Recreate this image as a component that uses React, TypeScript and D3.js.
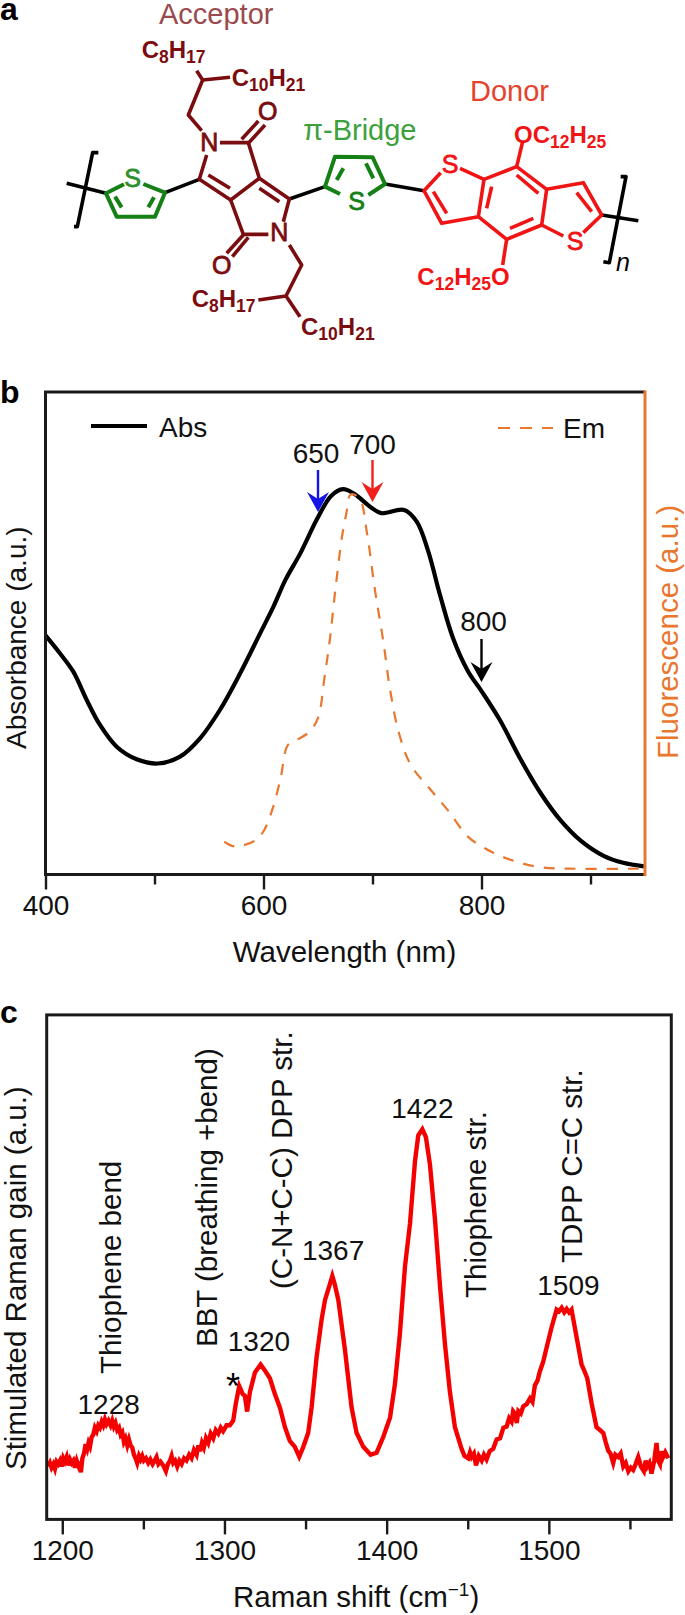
import React, { useEffect, useRef } from "react";
import * as d3 from "d3";

// panel b: wavelength (nm) against absorbance / fluorescence, arbitrary units
const absWavelength = [400, 413, 425.5, 437.8, 450, 465.3, 483.7, 503, 523.4, 541.8, 560, 578.7, 597, 609, 620, 634, 649, 662, 673, 683, 699, 708, 729, 740.6, 751, 762, 774, 787.6, 800, 817, 835.6, 854, 872, 891, 912, 930, 949];
const absValue = [204.7, 189.6, 173.6, 149.4, 128, 109.4, 98.6, 95, 100.9, 116.6, 140.8, 172.4, 206.6, 229, 252, 275.3, 304, 324, 329.8, 326, 314, 309.3, 312, 302, 277, 239, 202, 174, 157, 132, 99, 70, 47, 29, 16, 10, 7];
const emWavelength = [564, 574, 592.7, 600, 608, 615.6, 622, 628, 642, 650, 656, 661, 665.7, 672, 676, 680, 688, 695, 702, 710, 716, 724, 735, 752, 770, 788, 810, 831, 853, 881, 949];
const emValue = [28, 24, 29.3, 37, 55.3, 82, 110.3, 114, 122, 134, 169, 202, 242, 289, 309, 325.3, 322, 292, 245, 199, 159, 122, 94, 74, 54, 32, 19, 11.3, 6.3, 5, 5];
const wavelengthMajor = [400, 600, 800];
const wavelengthMinor = [500, 700, 900];

const arrowWavelengths = [650, 700, 800];
const arrowLabels = ["650", "700", "800"];
const arrowColors = ["#1414e6", "#f0201c", "#000000"];

// panel c: [Raman shift (cm-1), gain (arbitrary units)]
const ramanPoints = [
  [1191.4, 45], [1192.4, 48], [1193.4, 44], [1194.5, 47], [1195.5, 43], [1196.5, 49], [1197.5, 47], [1198.6, 50], [1199.6, 45], [1200.6, 52],
  [1201.6, 49], [1202.7, 53], [1203.7, 46], [1204.8, 51], [1205.8, 48], [1206.8, 50], [1207.8, 44], [1208.9, 50], [1209.9, 46], [1210.7, 49],
  [1211.5, 40], [1212.4, 52], [1213.4, 56], [1214.4, 64], [1215.4, 60], [1216.2, 65], [1217.1, 62], [1218.1, 70], [1219.1, 72], [1220.1, 78],
  [1221.2, 75], [1222.2, 80], [1223.2, 78], [1224.3, 83], [1225.3, 80], [1226.3, 85], [1227.3, 81], [1228.5, 84], [1229.8, 80], [1230.8, 84],
  [1231.8, 79], [1232.8, 82], [1233.9, 76], [1235, 78], [1236, 72], [1237, 74], [1238, 66], [1239, 69], [1240.1, 63], [1241.1, 68],
  [1242.1, 63], [1243.2, 61], [1244.2, 55], [1245.2, 52], [1246.2, 48], [1247.3, 54], [1248.3, 51], [1249.3, 54], [1250.3, 50], [1251.6, 52],
  [1253, 48], [1254.3, 51], [1255.7, 47], [1257, 50], [1258.1, 53], [1259.3, 47], [1260.6, 49], [1262.2, 46], [1263.9, 41], [1265.1, 47],
  [1266.4, 50], [1267.4, 54], [1268.4, 48], [1269.6, 50], [1270.9, 45], [1272.2, 50], [1273.6, 47], [1275.1, 52], [1276.6, 50], [1278.2, 55],
  [1279.7, 52], [1281.2, 59], [1282.8, 55], [1283.9, 63], [1284.9, 58], [1286.1, 65], [1287.3, 61], [1288.6, 69], [1290, 65], [1291.5, 73],
  [1293.1, 69], [1294.6, 76], [1296.2, 73], [1297.7, 78], [1299.2, 75], [1301.3, 80], [1303.3, 80], [1305.4, 84], [1307, 98.4], [1309.1, 113.4],
  [1311.2, 106.7], [1312.6, 105], [1314, 91.7], [1315.7, 108.4], [1318.8, 125], [1322.3, 131.7], [1324.9, 126.7], [1328, 120], [1331.1, 106.7], [1334.2, 95],
  [1337.3, 78.4], [1340.3, 66.7], [1343.4, 61.7], [1346.1, 53.4], [1348.6, 61.7], [1351.6, 73.4], [1353.7, 95], [1356.8, 138], [1359.9, 170], [1362, 186.6],
  [1365, 200], [1366.5, 207], [1368, 200], [1370.2, 186.6], [1374.3, 144], [1378.4, 95], [1381.5, 73.4], [1385.6, 61.7], [1390.1, 55], [1393.8, 56.7],
  [1397.9, 70], [1402.1, 86.7], [1405.1, 115], [1408.2, 158.4], [1411.3, 215], [1414.4, 251.7], [1417.5, 305], [1419.5, 326.7], [1422, 331.7], [1424.2, 325],
  [1426.7, 301.7], [1429.8, 255], [1432.9, 198.4], [1436, 148.4], [1439, 108.4], [1442.1, 78.4], [1446.2, 60], [1448, 54], [1450.3, 52], [1451.4, 57],
  [1452.4, 53], [1453.8, 56], [1455.1, 46], [1456.8, 54], [1458.6, 50], [1460, 55], [1461.6, 51], [1463.5, 58], [1465.7, 60], [1467.8, 68],
  [1469.9, 69], [1472, 78], [1474, 79], [1475.5, 86], [1477, 83], [1478, 92], [1479.1, 90], [1480.2, 82], [1481.2, 92], [1482.7, 90],
  [1484.2, 96], [1486.3, 98], [1488.4, 103], [1489.9, 100], [1491.4, 114], [1493, 118], [1494.5, 126], [1496.5, 134], [1498.6, 146], [1501.7, 163.4],
  [1504.8, 178.4], [1506.3, 177], [1507.9, 180], [1509.5, 176], [1511, 179], [1512.5, 176], [1514, 178.4], [1517.1, 155], [1520.2, 131.7], [1522, 126],
  [1523.7, 120], [1526.4, 98.4], [1529.4, 78.4], [1531.5, 76], [1533.6, 73.4], [1535, 66], [1536.6, 58.4], [1538, 56], [1539.7, 48], [1541, 55],
  [1542.8, 53], [1544.3, 56], [1545.9, 45], [1547.4, 48], [1549, 41], [1550.5, 44], [1552, 42], [1553.5, 47], [1555.1, 53], [1556.8, 45],
  [1558.6, 41], [1559.7, 50], [1560.7, 45], [1562, 48], [1563.3, 39], [1565, 50], [1566.4, 65], [1567.4, 50], [1568.5, 47], [1569.3, 58],
  [1570.1, 52], [1571.8, 57], [1573.6, 52],
];
const ramanMajor = [1200, 1300, 1400, 1500];
const ramanMinor = [1250, 1350, 1450, 1550];

const peakLabels = ["1228", "1320", "1367", "1422", "1509"];
const peakShifts = [1228, 1320, 1367, 1422, 1509];
const peakGains = [90, 143.3, 221, 341.7, 191];

const modeLabels = ["Thiophene bend", "BBT (breathing +bend)", "(C-N+C-C) DPP str.", "Thiophene str.", "TDPP C=C str."];
const modeX = [121, 217, 292, 486, 582];
const modeBottom = [1374, 1347, 1289, 1298, 1263];

// panel a: skeleton drawn in structure units (3 units to a pixel)
const blackBonds = [
  [[295, 458], [278, 458], [232, 680], [222, 680]],
  [[200, 550], [318, 580]],
  [[495, 578], [598, 538]],
  [[868, 597], [975, 560]],
  [[1155, 552], [1272, 572]],
  [[1805, 645], [1915, 662]],
  [[1862, 530], [1878, 530], [1828, 788], [1810, 785]],
];
const greenBonds = [
  [[372, 553], [318, 580], [350, 650], [465, 650], [495, 578], [430, 552]],
  [[345, 590], [365, 622]],
  [[462, 592], [445, 622]],
  [[1020, 582], [975, 560], [1005, 470], [1118, 472], [1155, 552], [1105, 585]],
  [[1030, 505], [1010, 540]],
  [[1098, 490], [1120, 535]],
];
const darkRedBonds = [
  [[605, 392], [565, 345], [608, 240], [590, 212]],
  [[608, 240], [690, 232]],
  [[660, 428], [745, 428], [778, 535], [868, 597], [850, 665]],
  [[745, 430], [795, 375]],
  [[725, 418], [775, 363]],
  [[778, 565], [838, 605]],
  [[778, 535], [692, 600], [598, 538], [620, 465]],
  [[690, 565], [625, 525]],
  [[692, 600], [730, 703], [805, 703]],
  [[730, 705], [680, 760]],
  [[745, 712], [697, 770]],
  [[868, 735], [905, 795], [858, 888], [775, 900]],
  [[858, 888], [900, 950]],
];
const redBonds = [
  [[1322, 518], [1272, 572], [1325, 670], [1435, 650], [1452, 538], [1380, 505]],
  [[1340, 640], [1300, 575]],
  [[1460, 625], [1475, 560]],
  [[1452, 538], [1550, 500], [1640, 568], [1625, 675], [1520, 718], [1435, 650]],
  [[1550, 525], [1615, 580]],
  [[1600, 655], [1530, 685]],
  [[1550, 500], [1568, 425]],
  [[1520, 718], [1508, 795]],
  [[1640, 568], [1750, 548], [1805, 645], [1750, 698]],
  [[1730, 578], [1775, 635]],
  [[1625, 675], [1690, 708]],
];
const atomLabels = [
  { text: "S", x: 398, y: 562, color: "#2f8f2f" },
  { text: "S", x: 1070, y: 630, color: "#158015" },
  { text: "N", x: 628, y: 454, color: "#7b0c10" },
  { text: "N", x: 838, y: 724, color: "#7b0c10" },
  { text: "O", x: 803, y: 360, color: "#7b0c10" },
  { text: "O", x: 665, y: 822, color: "#7b0c10" },
  { text: "S", x: 1350, y: 518, color: "#f01414" },
  { text: "S", x: 1725, y: 750, color: "#f01414" },
];
const chainLabels = [
  { parts: [["C", 0], ["8", 1], ["H", 0], ["17", 1]], x: 425, y: 175, color: "#7b0c10" },
  { parts: [["C", 0], ["10", 1], ["H", 0], ["21", 1]], x: 695, y: 258, color: "#7b0c10" },
  { parts: [["C", 0], ["8", 1], ["H", 0], ["17", 1]], x: 575, y: 920, color: "#7b0c10" },
  { parts: [["C", 0], ["10", 1], ["H", 0], ["21", 1]], x: 903, y: 1005, color: "#7b0c10" },
  { parts: [["OC", 0], ["12", 1], ["H", 0], ["25", 1]], x: 1542, y: 430, color: "#f01414" },
  { parts: [["C", 0], ["12", 1], ["H", 0], ["25", 1], ["O", 0]], x: 1252, y: 855, color: "#f01414" },
];

const ORANGE = "#e9772e";
const INK = "#1a1a1a";
const FONT = "'Liberation Sans', Arial, sans-serif";

const xB = d3.scaleLinear().domain([400, 950]).range([45.5, 645]);
const yB = d3.scaleLinear().domain([0, 413]).range([874.5, 392]);
const xC = d3.scaleLinear().domain([1190.4, 1575.5]).range([46.7, 671.3]);
const yC = d3.scaleLinear().domain([0, 429]).range([1519.4, 1014.9]);
const unit = d3.scaleLinear().domain([0, 3]).range([0, 1]);

const bondLine = d3.line<number[]>().x((d) => unit(d[0])).y((d) => unit(d[1]));

function Axis({ scale, major, minor, y }: any) {
  const majorRef = useRef<SVGGElement>(null);
  const minorRef = useRef<SVGGElement>(null);
  useEffect(() => {
    d3.select(majorRef.current!)
      .call(d3.axisBottom(scale).tickValues(major).tickSize(15).tickSizeOuter(0).tickPadding(6).tickFormat(d3.format("d")) as any)
      .call((g: any) => g.select(".domain").remove())
      .call((g: any) => g.selectAll("line").attr("stroke", INK).attr("stroke-width", 2.4))
      .call((g: any) => g.selectAll("text").attr("font-size", 28).attr("font-family", FONT).attr("fill", "#111"));
    d3.select(minorRef.current!)
      .call(d3.axisBottom(scale).tickValues(minor).tickSize(10).tickSizeOuter(0).tickFormat(() => "") as any)
      .call((g: any) => g.select(".domain").remove())
      .call((g: any) => g.selectAll("line").attr("stroke", INK).attr("stroke-width", 2.4));
  }, []);
  return (
    <>
      <g ref={majorRef} transform={`translate(0,${y})`} />
      <g ref={minorRef} transform={`translate(0,${y})`} />
    </>
  );
}

function Bonds({ bonds, color, width = 3.6 }: any) {
  return (
    <g fill="none" stroke={color} strokeWidth={width} strokeLinejoin="round">
      {bonds.map((b: number[][], i: number) => (
        <path key={i} d={bondLine(b) as string} />
      ))}
    </g>
  );
}

function VText({ x, y, size = 29.5, fill = "#111", children }: any) {
  return (
    <text transform={`translate(${x},${y}) rotate(-90)`} fontSize={size} fill={fill}>
      {children}
    </text>
  );
}

function Arrow({ x, tip, top, color }: any) {
  const head = d3.path();
  head.moveTo(x, tip);
  head.lineTo(x - 11, tip - 20);
  head.lineTo(x, tip - 13);
  head.lineTo(x + 11, tip - 20);
  head.closePath();
  return (
    <g>
      <line x1={x} x2={x} y1={top} y2={tip - 10} stroke={color} strokeWidth={2.4} />
      <path d={head.toString()} fill={color} />
    </g>
  );
}

export default function App() {
  const absLine = d3
    .line<number>()
    .x((d) => xB(d))
    .y((_, i) => yB(absValue[i]))
    .curve(d3.curveCatmullRom.alpha(0.5));
  const emLine = d3
    .line<number>()
    .x((d) => xB(d))
    .y((_, i) => yB(emValue[i]))
    .curve(d3.curveCatmullRom.alpha(0.5));
  const ramanLine = d3
    .line<number[]>()
    .x((d) => xC(d[0]))
    .y((d) => yC(d[1]));

  const arrowTops = [470, 460, 639];
  const arrowTips = [512, 502, 682];
  const arrowBaselines = [462.6, 453.6, 630.6];
  const arrowLabelShift = [-2, 0, 2];
  const peakLabelShift = [1, 2, 0, 0, 5];

  return (
    <svg
      width={685}
      height={1615}
      fontFamily={FONT}
      style={{ position: "absolute", left: 0, top: 0, display: "block", background: "#fff" }}
    >
      {/* panel a */}
      <text x={0} y={20} fontSize={32} fontWeight="bold" fill="#000">a</text>
      <text x={159} y={24} fontSize={29} fill="#9b4a4e">Acceptor</text>
      <text x={303} y={140} fontSize={29} fill="#3ca03c">π-Bridge</text>
      <text x={470} y={101} fontSize={29} fill="#e5432b">Donor</text>
      <Bonds bonds={blackBonds} color="#000" />
      <Bonds bonds={greenBonds} color="#158015" width={4} />
      <Bonds bonds={darkRedBonds} color="#7b0c10" />
      <Bonds bonds={redBonds} color="#f01414" />
      {atomLabels.map((d, i) => (
        <text key={i} x={unit(d.x)} y={unit(d.y)} fontSize={25} textAnchor="middle" fill={d.color} stroke={d.color} strokeWidth={0.8}>
          {d.text}
        </text>
      ))}
      {chainLabels.map((d, i) => (
        <text key={i} x={unit(d.x)} y={unit(d.y)} fontWeight="bold" fontSize={24} fill={d.color}>
          {d.parts.map((p: any, j: number) => {
            const prevSub = j > 0 && d.parts[j - 1][1] === 1;
            const dy = p[1] === 1 ? 5 : prevSub ? -5 : 0;
            return (
              <tspan key={j} dy={dy} fontSize={p[1] === 1 ? 17.5 : 24}>
                {p[0]}
              </tspan>
            );
          })}
        </text>
      ))}
      <text x={616} y=  {271} fontSize={25} fontStyle="italic" fill="#000">n</text>

      {/* panel b */}
      <text x={0} y={403} fontSize={32} fontWeight="bold" fill="#000">b</text>
      <Axis scale={xB} major={wavelengthMajor} minor={wavelengthMinor} y={yB(0)} />
      <path d={absLine(absWavelength) as string} fill="none" stroke="#000" strokeWidth={4.2} />
      <path d={emLine(emWavelength) as string} fill="none" stroke={ORANGE} strokeWidth={2.2} strokeDasharray="11 10" />
      <path
        d={`M${xB(950)},${yB(413)}H${xB(400)}V${yB(0)}H${xB(950)}`}
        fill="none"
        stroke={INK}
        strokeWidth={3}
      />
      <line x1={xB(950)} x2={xB(950)} y1={yB(413) - 1.5} y2={yB(0) + 1.5} stroke={ORANGE} strokeWidth={3} />
      <line x1={91} x2={147} y1={426} y2={426} stroke="#000" strokeWidth={4.2} />
      <text x={159} y={437} fontSize={28} fill="#111">Abs</text>
      <line x1={498} x2={553} y1={428} y2={428} stroke={ORANGE} strokeWidth={2.2} strokeDasharray="12 10" />
      <text x={563} y={438} fontSize={28} fill="#111">Em</text>
      {arrowWavelengths.map((d, i) => (
        <g key={d}>
          <text x={xB(d) + arrowLabelShift[i]} y={arrowBaselines[i]} fontSize={28} textAnchor="middle" fill="#111">
            {arrowLabels[i]}
          </text>
          <Arrow x={xB(d)} top={arrowTops[i]} tip={arrowTips[i]} color={arrowColors[i]} />
        </g>
      ))}
      <VText x={26} y={749} size={28}>Absorbance (a.u.)</VText>
      <VText x={678} y={759} fill={ORANGE}>Fluorescence (a.u.)</VText>
      <text x={344.5} y={962} fontSize={29.5} textAnchor="middle" fill="#111">Wavelength (nm)</text>

      {/* panel c */}
      <text x={0} y={1023} fontSize={32} fontWeight="bold" fill="#000">c</text>
      <Axis scale={xC} major={ramanMajor} minor={ramanMinor} y={yC(0)} />
      <path d={ramanLine(ramanPoints) as string} fill="none" stroke="#f50000" strokeWidth={4.4} strokeLinejoin="miter" />
      <rect
        x={xC.range()[0]}
        y={yC.range()[1]}
        width={xC.range()[1] - xC.range()[0]}
        height={yC.range()[0] - yC.range()[1]}
        fill="none"
        stroke={INK}
        strokeWidth={3}
      />
      {peakLabels.map((d, i) => (
        <text key={d} x={xC(peakShifts[i]) + peakLabelShift[i]} y={yC(peakGains[i])} fontSize={28} textAnchor="middle" fill="#111">
          {d}
        </text>
      ))}
      <text x={233} y={1399} fontSize={36} textAnchor="middle" fill="#000">*</text>
      {modeLabels.map((d, i) => (
        <VText key={d} x={modeX[i]} y={modeBottom[i]}>{d}</VText>
      ))}
      <VText x={26} y={1470}>Stimulated Raman gain (a.u.)</VText>
      <text x={233} y={1607} fontSize={29.5} fill="#111">
        Raman shift (cm
        <tspan dy={-11} fontSize={19}>−1</tspan>
        <tspan dy={11}>)</tspan>
      </text>
    </svg>
  );
}
